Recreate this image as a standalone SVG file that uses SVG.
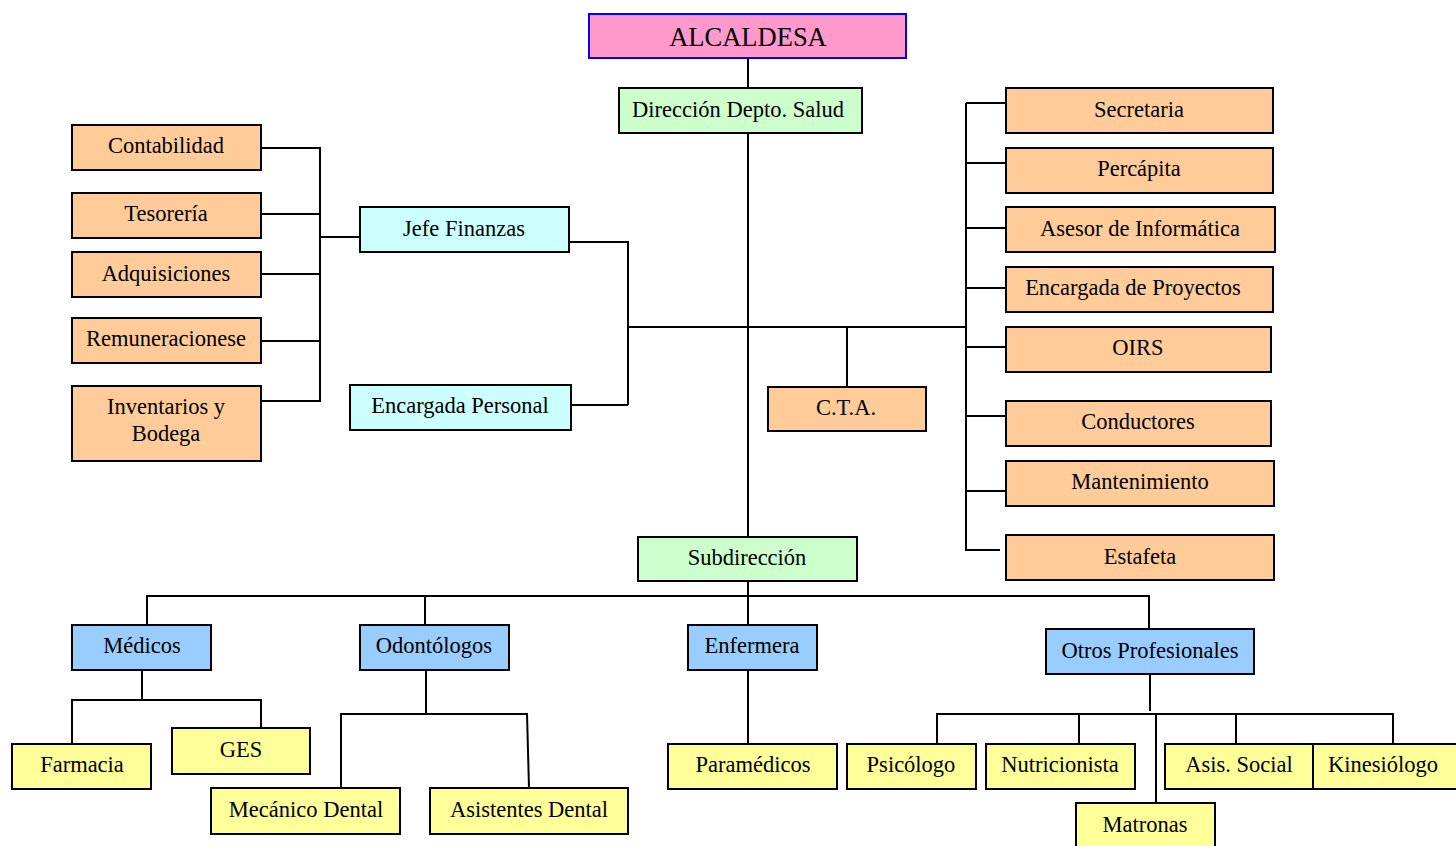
<svg xmlns="http://www.w3.org/2000/svg" width="1456" height="846" viewBox="0 0 1456 846">
<style>
rect{stroke:#000;stroke-width:2}
.pk{fill:#ff99cc;stroke:#0000ff}
.gr{fill:#ccffcc}
.or{fill:#ffcc99}
.cy{fill:#ccffff}
.bl{fill:#99ccff}
.ye{fill:#ffff99}
text{font-family:'Liberation Serif',serif;font-size:22.5px;fill:#000;text-anchor:middle}
.big{font-size:26.5px}
#connectors path{fill:none;stroke:#000;stroke-width:2}
</style>
<rect width="1456" height="846" fill="#fff" style="stroke:none"/>
<g id="connectors">
<path d="M748 58V537M748 581V625"/>
<path d="M261 148H320V401H261M261 214H320M261 274H320M261 341H320M320 237H360"/>
<path d="M569 242H628M628 241V405M571 405H628M628 327H966M847 327V387"/>
<path d="M966 103V550H1000M966 103H1006M966 163H1006M966 228H1006M966 288H1006M966 347H1006M966 416H1006M966 491H1006"/>
<path d="M147 625V596H1149V629M425 596V625"/>
<path d="M142 670V700M72 744V700H261V728"/>
<path d="M426 670V714M341 788V714H527L529 788"/>
<path d="M748 670V744"/>
<path d="M1150 674V711M937 744V714H1393V744M1079 714V744M1236 714V744M1156 714V803"/>
</g>
<g id="alcaldesa"><rect class="pk" x="589" y="14" width="317" height="44"/><text class="big" x="748" y="46">ALCALDESA</text></g>
<g id="direccion"><rect class="gr" x="619" y="88" width="243" height="45"/><text x="738" y="117">Dirección Depto. Salud</text></g>
<g id="contabilidad"><rect class="or" x="72" y="125" width="189" height="45"/><text x="166" y="153">Contabilidad</text></g>
<g id="tesoreria"><rect class="or" x="72" y="193" width="189" height="45"/><text x="166" y="221">Tesorería</text></g>
<g id="adquisiciones"><rect class="or" x="72" y="252" width="189" height="45"/><text x="166" y="281">Adquisiciones</text></g>
<g id="remuneraciones"><rect class="or" x="72" y="318" width="189" height="45"/><text x="166" y="346">Remuneracionese</text></g>
<g id="inventarios"><rect class="or" x="72" y="386" width="189" height="75"/><text x="166" y="414">Inventarios y</text><text x="166" y="441">Bodega</text></g>
<g id="jefe-finanzas"><rect class="cy" x="360" y="207" width="209" height="45"/><text x="464" y="236">Jefe Finanzas</text></g>
<g id="encargada-personal"><rect class="cy" x="350" y="385" width="221" height="45"/><text x="460" y="413">Encargada Personal</text></g>
<g id="cta"><rect class="or" x="768" y="387" width="158" height="44"/><text x="846" y="415">C.T.A.</text></g>
<g id="secretaria"><rect class="or" x="1006" y="88" width="267" height="45"/><text x="1139" y="117">Secretaria</text></g>
<g id="percapita"><rect class="or" x="1006" y="148" width="267" height="45"/><text x="1139" y="176">Percápita</text></g>
<g id="asesor"><rect class="or" x="1006" y="207" width="269" height="45"/><text x="1140" y="236">Asesor de Informática</text></g>
<g id="proyectos"><rect class="or" x="1006" y="267" width="267" height="45"/><text x="1133" y="295">Encargada de Proyectos</text></g>
<g id="oirs"><rect class="or" x="1006" y="327" width="265" height="45"/><text x="1138" y="355">OIRS</text></g>
<g id="conductores"><rect class="or" x="1006" y="401" width="265" height="45"/><text x="1138" y="429">Conductores</text></g>
<g id="mantenimiento"><rect class="or" x="1006" y="461" width="268" height="45"/><text x="1140" y="489">Mantenimiento</text></g>
<g id="estafeta"><rect class="or" x="1006" y="535" width="268" height="45"/><text x="1140" y="564">Estafeta</text></g>
<g id="subdireccion"><rect class="gr" x="638" y="537" width="219" height="44"/><text x="747" y="565">Subdirección</text></g>
<g id="medicos"><rect class="bl" x="72" y="625" width="139" height="45"/><text x="142" y="653">Médicos</text></g>
<g id="odontologos"><rect class="bl" x="360" y="625" width="149" height="45"/><text x="434" y="653">Odontólogos</text></g>
<g id="enfermera"><rect class="bl" x="688" y="625" width="129" height="45"/><text x="752" y="653">Enfermera</text></g>
<g id="otros"><rect class="bl" x="1046" y="629" width="208" height="45"/><text x="1150" y="658">Otros Profesionales</text></g>
<g id="farmacia"><rect class="ye" x="12" y="744" width="139" height="45"/><text x="82" y="772">Farmacia</text></g>
<g id="ges"><rect class="ye" x="172" y="728" width="138" height="46"/><text x="241" y="757">GES</text></g>
<g id="mecanico"><rect class="ye" x="211" y="788" width="189" height="46"/><text x="306" y="817">Mecánico Dental</text></g>
<g id="asistentes"><rect class="ye" x="430" y="788" width="198" height="46"/><text x="529" y="817">Asistentes Dental</text></g>
<g id="paramedicos"><rect class="ye" x="668" y="744" width="169" height="45"/><text x="753" y="772">Paramédicos</text></g>
<g id="psicologo"><rect class="ye" x="847" y="744" width="129" height="45"/><text x="911" y="772">Psicólogo</text></g>
<g id="nutricionista"><rect class="ye" x="986" y="744" width="149" height="45"/><text x="1060" y="772">Nutricionista</text></g>
<g id="matronas"><rect class="ye" x="1076" y="803" width="139" height="50"/><text x="1145" y="832">Matronas</text></g>
<g id="asis-social"><rect class="ye" x="1165" y="744" width="148" height="45"/><text x="1239" y="772">Asis. Social</text></g>
<g id="kinesiologo"><rect class="ye" x="1313" y="744" width="146" height="45"/><text x="1383" y="772">Kinesiólogo</text></g>
</svg>
